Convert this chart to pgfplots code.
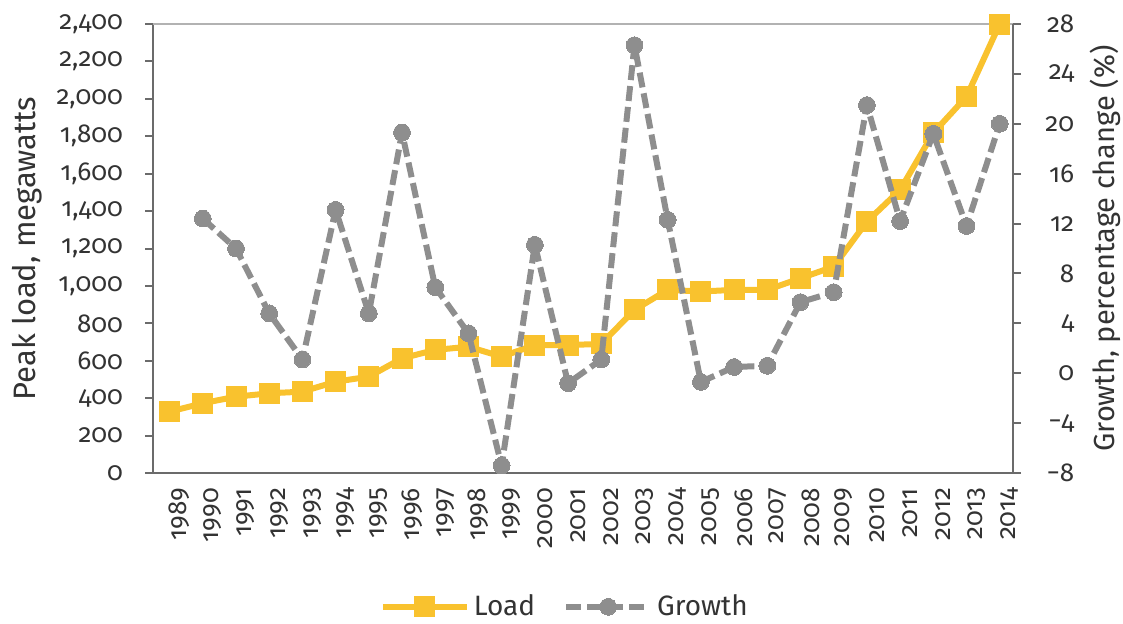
\documentclass[border=0pt]{standalone}
\usepackage{fontspec}
\setmainfont{Fira Sans}[Numbers=OldStyle]
\usepackage{pgfplots}
\pgfplotsset{compat=1.18}
\definecolor{loadc}{HTML}{F9C22E}
\definecolor{growc}{HTML}{8E8E8E}
\definecolor{spine}{HTML}{6B6B6B}
\definecolor{txt}{HTML}{333333}
\pgfplotsset{
  loadstyle/.style={color=loadc, line width=3pt, line join=round, mark=square*, mark size=5pt, mark options={solid, fill=loadc, draw=loadc, line width=0pt}},
  growstyle/.style={color=growc, line width=3pt, line join=round, dash pattern=on 7.5pt off 3pt, mark=*, mark size=4.2pt, mark options={solid, fill=growc, draw=growc, line width=0pt}},
  common/.style={scale only axis, width=430pt, height=224.5pt, xmin=1988.5, xmax=2014.4, clip=false,
    tick label style={font=\fontsize{13}{15}\selectfont, text=txt},
    axis line style={spine, line width=1pt},
    tick align=outside, major tick length=4pt,
    y tick style={spine, line width=1pt}},
}
\pgfplotstableread{
year load
1989 328
1990 373
1991 408
1992 426
1993 435
1994 488
1995 515
1996 613
1997 658
1998 675
1999 622
2000 684
2001 684
2002 690
2003 872
2004 979
2005 970
2006 979
2007 979
2008 1041
2009 1103
2010 1344
2011 1513
2012 1818
2013 2012
2014 2400
}\loadtable
\pgfplotstableread{
year growth
1990 12.4
1991 10.0
1992 4.8
1993 1.1
1994 13.1
1995 4.8
1996 19.3
1997 6.9
1998 3.2
1999 -7.4
2000 10.3
2001 -0.8
2002 1.1
2003 26.3
2004 12.3
2005 -0.7
2006 0.5
2007 0.6
2008 5.7
2009 6.5
2010 21.5
2011 12.2
2012 19.2
2013 11.8
2014 20.0
}\growtable
\begin{document}
\begin{tikzpicture}
\path[use as bounding box] (-76.5pt,-75pt) rectangle (485pt,236.5pt);
\begin{axis}[common, at={(0,0)}, anchor=south west,
  ymin=0, ymax=2400,
  axis x line*=bottom, axis y line*=left,
  xtick={1989,...,2014},
  xticklabels={1989,1990,1991,1992,1993,1994,1995,1996,1997,1998,1999,2000,2001,2002,2003,2004,2005,2006,2007,2008,2009,2010,2011,2012,2013,2014},
  x tick style={draw=none},
  xticklabel style={rotate=90, anchor=east, yshift=-5pt},
  ytick={0,200,...,2400},
  yticklabels={0,200,400,600,800,{1,000},{1,200},{1,400},{1,600},{1,800},{2,000},{2,200},{2,400}},
  yticklabel style={xshift=-7.5pt},
  ylabel={Peak load, megawatts},
  every axis y label/.style={at={(axis description cs:-0.1465,0.5)}, rotate=90, anchor=center, font=\fontsize{15.5}{18}\selectfont, text=txt},
]
\draw[color=black!30, line width=1pt] (rel axis cs:0,1) -- (rel axis cs:1,1);
\addplot[loadstyle] table[x=year, y=load] {\loadtable};
\end{axis}
\begin{axis}[common, at={(0,0)}, anchor=south west,
  ymin=-8, ymax=28,
  axis x line=none, axis y line*=right,
  ytick={-8,-4,...,28},
  yticklabels={−8,−4,0,4,8,12,16,20,24,28},
  yticklabel style={anchor=west, text width=15pt, align=right, xshift=8pt},
  ylabel={Growth, percentage change (\%)},
  every axis y label/.style={at={(axis description cs:1.107,0.5)}, rotate=90, anchor=center, font=\fontsize{14.5}{17}\selectfont, text=txt},
  legend style={at={(axis description cs:0.48,-0.298)}, anchor=center, draw=none, fill=none,
    legend columns=2, font=\fontsize{14}{16}\selectfont, text=txt,
    /tikz/every even column/.append style={column sep=12pt}},
  legend image code/.code={\draw[mark repeat=2, mark phase=2, #1] plot coordinates {(0pt,0pt) (21pt,0pt) (42pt,0pt)};},
]
\addlegendimage{loadstyle}
\addlegendentry{Load}
\addplot[growstyle] table[x=year, y=growth] {\growtable};
\addlegendentry{Growth}
\end{axis}
\end{tikzpicture}
\end{document}
